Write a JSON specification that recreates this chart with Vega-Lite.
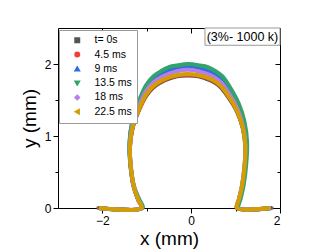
{
  "$schema": "https://vega.github.io/schema/vega-lite/v6.json",
  "autosize": "none",
  "width": 222,
  "height": 180,
  "padding": {"left": 58, "top": 28, "right": 47, "bottom": 42},
  "background": "white",
  "config": {
    "font": "Liberation Sans",
    "view": {"stroke": null},
    "axis": {"grid": false, "domainColor": "black", "tickColor": "black", "labelColor": "black", "titleColor": "black", "titleFontWeight": "normal", "domainWidth": 1, "tickWidth": 1},
    "legend": {"orient": "none", "legendX": 1, "legendY": 2, "strokeColor": "#999", "fillColor": "white", "padding": 5, "labelFontSize": 10.5, "symbolSize": 20, "rowPadding": 3.3, "symbolOffset": 8, "labelOffset": 12, "labelColor": "black"}
  },
  "datasets": {
    "drops": [
      {"s":"t= 0s","i":0,"x":-2.10,"y":0},{"s":"t= 0s","i":1,"x":-1.12,"y":0},{"s":"t= 0s","i":2,"x":-1.19,"y":0.11},{"s":"t= 0s","i":3,"x":-1.29,"y":0.29},{"s":"t= 0s","i":4,"x":-1.36,"y":0.56},{"s":"t= 0s","i":5,"x":-1.38,"y":0.84},{"s":"t= 0s","i":6,"x":-1.32,"y":1.11},{"s":"t= 0s","i":7,"x":-1.19,"y":1.34},{"s":"t= 0s","i":8,"x":-1.01,"y":1.56},{"s":"t= 0s","i":9,"x":-0.84,"y":1.68},{"s":"t= 0s","i":10,"x":-0.67,"y":1.75},{"s":"t= 0s","i":11,"x":-0.48,"y":1.80},{"s":"t= 0s","i":12,"x":-0.32,"y":1.83},{"s":"t= 0s","i":13,"x":-0.08,"y":1.84},{"s":"t= 0s","i":14,"x":0.16,"y":1.83},{"s":"t= 0s","i":15,"x":0.32,"y":1.80},{"s":"t= 0s","i":16,"x":0.51,"y":1.75},{"s":"t= 0s","i":17,"x":0.66,"y":1.68},{"s":"t= 0s","i":18,"x":0.81,"y":1.56},{"s":"t= 0s","i":19,"x":1.03,"y":1.34},{"s":"t= 0s","i":20,"x":1.16,"y":1.11},{"s":"t= 0s","i":21,"x":1.22,"y":0.84},{"s":"t= 0s","i":22,"x":1.20,"y":0.56},{"s":"t= 0s","i":23,"x":1.14,"y":0.29},{"s":"t= 0s","i":24,"x":1.07,"y":0.11},{"s":"t= 0s","i":25,"x":1.03,"y":0},{"s":"t= 0s","i":26,"x":1.82,"y":0},

      {"s":"4.5 ms","i":0,"x":-2.08,"y":0},{"s":"4.5 ms","i":1,"x":-1.12,"y":0},{"s":"4.5 ms","i":2,"x":-1.19,"y":0.11},{"s":"4.5 ms","i":3,"x":-1.29,"y":0.29},{"s":"4.5 ms","i":4,"x":-1.36,"y":0.57},{"s":"4.5 ms","i":5,"x":-1.38,"y":0.85},{"s":"4.5 ms","i":6,"x":-1.32,"y":1.11},{"s":"4.5 ms","i":7,"x":-1.19,"y":1.34},{"s":"4.5 ms","i":8,"x":-1.01,"y":1.57},{"s":"4.5 ms","i":9,"x":-0.84,"y":1.69},{"s":"4.5 ms","i":10,"x":-0.67,"y":1.76},{"s":"4.5 ms","i":11,"x":-0.48,"y":1.81},{"s":"4.5 ms","i":12,"x":-0.32,"y":1.84},{"s":"4.5 ms","i":13,"x":-0.08,"y":1.85},{"s":"4.5 ms","i":14,"x":0.17,"y":1.84},{"s":"4.5 ms","i":15,"x":0.33,"y":1.81},{"s":"4.5 ms","i":16,"x":0.52,"y":1.76},{"s":"4.5 ms","i":17,"x":0.67,"y":1.69},{"s":"4.5 ms","i":18,"x":0.82,"y":1.57},{"s":"4.5 ms","i":19,"x":1.04,"y":1.34},{"s":"4.5 ms","i":20,"x":1.17,"y":1.11},{"s":"4.5 ms","i":21,"x":1.23,"y":0.85},{"s":"4.5 ms","i":22,"x":1.21,"y":0.57},{"s":"4.5 ms","i":23,"x":1.15,"y":0.29},{"s":"4.5 ms","i":24,"x":1.08,"y":0.11},{"s":"4.5 ms","i":25,"x":1.04,"y":0},{"s":"4.5 ms","i":26,"x":1.80,"y":0},

      {"s":"9 ms","i":0,"x":-2.08,"y":0},{"s":"9 ms","i":1,"x":-1.12,"y":0},{"s":"9 ms","i":2,"x":-1.20,"y":0.12},{"s":"9 ms","i":3,"x":-1.30,"y":0.30},{"s":"9 ms","i":4,"x":-1.37,"y":0.60},{"s":"9 ms","i":5,"x":-1.39,"y":0.89},{"s":"9 ms","i":6,"x":-1.33,"y":1.18},{"s":"9 ms","i":7,"x":-1.20,"y":1.42},{"s":"9 ms","i":8,"x":-1.02,"y":1.66},{"s":"9 ms","i":9,"x":-0.85,"y":1.79},{"s":"9 ms","i":10,"x":-0.68,"y":1.86},{"s":"9 ms","i":11,"x":-0.49,"y":1.91},{"s":"9 ms","i":12,"x":-0.33,"y":1.94},{"s":"9 ms","i":13,"x":-0.07,"y":1.95},{"s":"9 ms","i":14,"x":0.18,"y":1.94},{"s":"9 ms","i":15,"x":0.34,"y":1.91},{"s":"9 ms","i":16,"x":0.53,"y":1.86},{"s":"9 ms","i":17,"x":0.68,"y":1.79},{"s":"9 ms","i":18,"x":0.83,"y":1.66},{"s":"9 ms","i":19,"x":1.05,"y":1.42},{"s":"9 ms","i":20,"x":1.18,"y":1.18},{"s":"9 ms","i":21,"x":1.24,"y":0.89},{"s":"9 ms","i":22,"x":1.22,"y":0.60},{"s":"9 ms","i":23,"x":1.16,"y":0.30},{"s":"9 ms","i":24,"x":1.09,"y":0.12},{"s":"9 ms","i":25,"x":1.05,"y":0},{"s":"9 ms","i":26,"x":1.80,"y":0},

      {"s":"13.5 ms","i":0,"x":-2.08,"y":0},{"s":"13.5 ms","i":1,"x":-1.09,"y":0},{"s":"13.5 ms","i":2,"x":-1.17,"y":0.12},{"s":"13.5 ms","i":3,"x":-1.29,"y":0.31},{"s":"13.5 ms","i":4,"x":-1.37,"y":0.61},{"s":"13.5 ms","i":5,"x":-1.39,"y":0.91},{"s":"13.5 ms","i":6,"x":-1.33,"y":1.20},{"s":"13.5 ms","i":7,"x":-1.20,"y":1.45},{"s":"13.5 ms","i":8,"x":-1.02,"y":1.70},{"s":"13.5 ms","i":9,"x":-0.85,"y":1.83},{"s":"13.5 ms","i":10,"x":-0.68,"y":1.90},{"s":"13.5 ms","i":11,"x":-0.49,"y":1.96},{"s":"13.5 ms","i":12,"x":-0.33,"y":1.98},{"s":"13.5 ms","i":13,"x":-0.06,"y":2.00},{"s":"13.5 ms","i":14,"x":0.20,"y":1.98},{"s":"13.5 ms","i":15,"x":0.36,"y":1.96},{"s":"13.5 ms","i":16,"x":0.55,"y":1.90},{"s":"13.5 ms","i":17,"x":0.70,"y":1.83},{"s":"13.5 ms","i":18,"x":0.85,"y":1.70},{"s":"13.5 ms","i":19,"x":1.07,"y":1.45},{"s":"13.5 ms","i":20,"x":1.20,"y":1.20},{"s":"13.5 ms","i":21,"x":1.26,"y":0.91},{"s":"13.5 ms","i":22,"x":1.24,"y":0.61},{"s":"13.5 ms","i":23,"x":1.18,"y":0.31},{"s":"13.5 ms","i":24,"x":1.11,"y":0.12},{"s":"13.5 ms","i":25,"x":1.07,"y":0},{"s":"13.5 ms","i":26,"x":1.80,"y":0},

      {"s":"18 ms","i":0,"x":-2.08,"y":0},{"s":"18 ms","i":1,"x":-1.12,"y":0},{"s":"18 ms","i":2,"x":-1.19,"y":0.11},{"s":"18 ms","i":3,"x":-1.29,"y":0.30},{"s":"18 ms","i":4,"x":-1.36,"y":0.59},{"s":"18 ms","i":5,"x":-1.38,"y":0.88},{"s":"18 ms","i":6,"x":-1.32,"y":1.15},{"s":"18 ms","i":7,"x":-1.19,"y":1.39},{"s":"18 ms","i":8,"x":-1.01,"y":1.63},{"s":"18 ms","i":9,"x":-0.84,"y":1.75},{"s":"18 ms","i":10,"x":-0.67,"y":1.82},{"s":"18 ms","i":11,"x":-0.48,"y":1.87},{"s":"18 ms","i":12,"x":-0.32,"y":1.90},{"s":"18 ms","i":13,"x":-0.08,"y":1.92},{"s":"18 ms","i":14,"x":0.16,"y":1.90},{"s":"18 ms","i":15,"x":0.32,"y":1.87},{"s":"18 ms","i":16,"x":0.51,"y":1.82},{"s":"18 ms","i":17,"x":0.66,"y":1.75},{"s":"18 ms","i":18,"x":0.81,"y":1.63},{"s":"18 ms","i":19,"x":1.03,"y":1.39},{"s":"18 ms","i":20,"x":1.16,"y":1.15},{"s":"18 ms","i":21,"x":1.22,"y":0.88},{"s":"18 ms","i":22,"x":1.20,"y":0.59},{"s":"18 ms","i":23,"x":1.14,"y":0.30},{"s":"18 ms","i":24,"x":1.07,"y":0.11},{"s":"18 ms","i":25,"x":1.03,"y":0},{"s":"18 ms","i":26,"x":1.80,"y":0},

      {"s":"22.5 ms","i":0,"x":-2.08,"y":0},{"s":"22.5 ms","i":1,"x":-1.12,"y":0},{"s":"22.5 ms","i":2,"x":-1.19,"y":0.11},{"s":"22.5 ms","i":3,"x":-1.29,"y":0.29},{"s":"22.5 ms","i":4,"x":-1.36,"y":0.57},{"s":"22.5 ms","i":5,"x":-1.38,"y":0.85},{"s":"22.5 ms","i":6,"x":-1.32,"y":1.12},{"s":"22.5 ms","i":7,"x":-1.19,"y":1.35},{"s":"22.5 ms","i":8,"x":-1.01,"y":1.58},{"s":"22.5 ms","i":9,"x":-0.84,"y":1.70},{"s":"22.5 ms","i":10,"x":-0.67,"y":1.77},{"s":"22.5 ms","i":11,"x":-0.48,"y":1.82},{"s":"22.5 ms","i":12,"x":-0.32,"y":1.845},{"s":"22.5 ms","i":13,"x":-0.08,"y":1.86},{"s":"22.5 ms","i":14,"x":0.16,"y":1.845},{"s":"22.5 ms","i":15,"x":0.32,"y":1.82},{"s":"22.5 ms","i":16,"x":0.51,"y":1.77},{"s":"22.5 ms","i":17,"x":0.66,"y":1.70},{"s":"22.5 ms","i":18,"x":0.81,"y":1.58},{"s":"22.5 ms","i":19,"x":1.03,"y":1.35},{"s":"22.5 ms","i":20,"x":1.16,"y":1.12},{"s":"22.5 ms","i":21,"x":1.22,"y":0.85},{"s":"22.5 ms","i":22,"x":1.20,"y":0.57},{"s":"22.5 ms","i":23,"x":1.14,"y":0.29},{"s":"22.5 ms","i":24,"x":1.07,"y":0.11},{"s":"22.5 ms","i":25,"x":1.03,"y":0},{"s":"22.5 ms","i":26,"x":1.78,"y":0}
    ]
  },
  "resolve": {"axis": {"x": "independent", "y": "independent"}},
  "layer": [
    {
      "data": {"name": "drops"},
      "mark": {"type": "point", "filled": true, "size": 8, "opacity": 1},
      "encoding": {
        "x": {"field": "x", "type": "quantitative", "scale": {"domain": [-3, 2], "nice": false, "zero": false},
          "axis": {"orient": "bottom", "values": [-2, -1, 0, 1, 2], "labelExpr": "datum.value % 2 == 0 ? format(datum.value, 'd') : ''",
            "tickSize": {"condition": {"test": "datum.value % 2 == 0", "value": 5}, "value": 3},
            "title": "x (mm)", "titleFontSize": 19, "labelFontSize": 12, "labelPadding": 2, "titlePadding": 3}},
        "y": {"field": "y", "type": "quantitative", "scale": {"domain": [0, 2.5], "nice": false},
          "axis": {"orient": "left", "values": [0, 0.5, 1, 1.5, 2], "labelExpr": "datum.value % 1 == 0 ? format(datum.value, 'd') : ''",
            "tickSize": {"condition": {"test": "datum.value % 1 == 0", "value": 5}, "value": 3},
            "title": "y (mm)", "titleFontSize": 19, "labelFontSize": 12, "labelPadding": 2, "titlePadding": 5}},
        "color": {"field": "s", "type": "nominal", "title": null,
          "scale": {"domain": ["t= 0s", "4.5 ms", "9 ms", "13.5 ms", "18 ms", "22.5 ms"], "range": ["#555555", "#ef4139", "#2b6fe0", "#33a36b", "#b57ee8", "#d49d00"]},
          "legend": {"title": null}},
        "shape": {"field": "s", "type": "nominal", "title": null,
          "scale": {"domain": ["t= 0s", "4.5 ms", "9 ms", "13.5 ms", "18 ms", "22.5 ms"], "range": ["square", "circle", "triangle-up", "triangle-down", "diamond", "triangle-left"]},
          "legend": {"title": null}}
      }
    },
    {
      "data": {"name": "drops"},
      "mark": {"type": "line", "strokeWidth": 4, "strokeJoin": "round", "interpolate": "catmull-rom"},
      "encoding": {
        "x": {"field": "x", "type": "quantitative", "scale": {"domain": [-3, 2], "nice": false, "zero": false}, "axis": null},
        "y": {"field": "y", "type": "quantitative", "scale": {"domain": [0, 2.5], "nice": false}, "axis": null},
        "color": {"field": "s", "type": "nominal", "legend": null,
          "scale": {"domain": ["t= 0s", "4.5 ms", "9 ms", "13.5 ms", "18 ms", "22.5 ms"], "range": ["#555555", "#ef4139", "#2b6fe0", "#33a36b", "#b57ee8", "#d49d00"]}},
        "order": {"field": "i", "type": "quantitative"}
      }
    },
    {
      "data": {"values": [{}]},
      "mark": {"type": "rect", "fill": "white", "stroke": "#999", "strokeWidth": 1},
      "encoding": {
        "x": {"datum": 0.31, "type": "quantitative", "scale": {"domain": [-3, 2], "nice": false, "zero": false},
          "axis": {"orient": "top", "values": [-2, -1, 0, 1, 2], "labels": false, "title": null,
            "tickSize": {"condition": {"test": "datum.value % 2 == 0", "value": -5}, "value": -3}}},
        "x2": {"datum": 2},
        "y": {"datum": 2.26, "type": "quantitative", "scale": {"domain": [0, 2.5], "nice": false},
          "axis": {"orient": "right", "values": [0, 0.5, 1, 1.5, 2], "labels": false, "title": null,
            "tickSize": {"condition": {"test": "datum.value % 1 == 0", "value": -5}, "value": -3}}},
        "y2": {"datum": 2.5}
      }
    },
    {
      "data": {"values": [{}]},
      "mark": {"type": "text", "text": "(3%- 1000 k)", "fontSize": 12.5, "align": "center", "baseline": "middle", "color": "black"},
      "encoding": {
        "x": {"datum": 1.155, "type": "quantitative", "scale": {"domain": [-3, 2], "nice": false, "zero": false}, "axis": null},
        "y": {"datum": 2.375, "type": "quantitative", "scale": {"domain": [0, 2.5], "nice": false}, "axis": null}
      }
    }
  ]
}
